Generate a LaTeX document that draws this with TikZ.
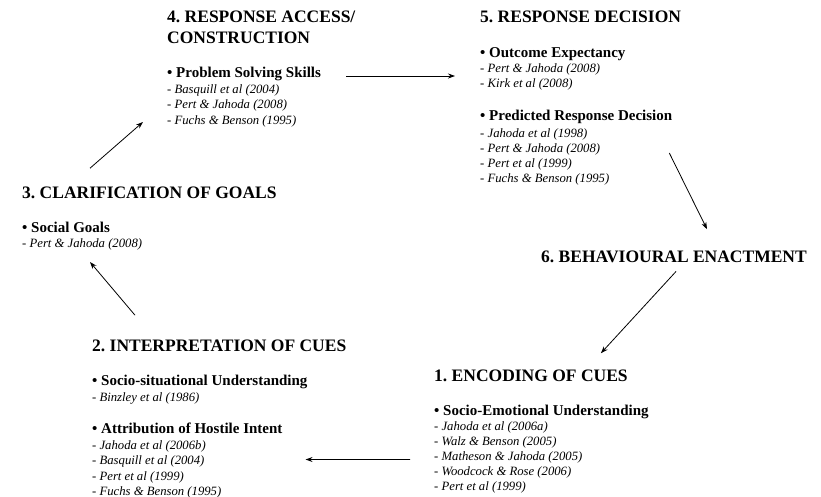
\documentclass[tikz,border=0pt]{standalone}
\usepackage{fontspec}
\setmainfont{Liberation Serif}
\usetikzlibrary{arrows.meta}
\frenchspacing
\begin{document}
\begin{tikzpicture}[x=1pt,y=-1pt,
    buoc/.style={anchor=base west,inner sep=0pt,font=\fontsize{17.5}{21}\selectfont\bfseries},
    muc/.style={anchor=base west,inner sep=0pt,font=\fontsize{15}{18}\selectfont\bfseries},
    trich/.style={anchor=base west,inner sep=0pt,font=\fontsize{12.7}{15}\selectfont\itshape},
    mui/.style={-{Stealth[length=7pt,width=5pt]},line width=0.8pt}]
    \useasboundingbox (0,0) rectangle (821,496);
    % buoc 4
    \node[buoc] (h4) at (167,22.5) {4. RESPONSE ACCESS/};
    \node[buoc] (h4b) at (167,43.5) {CONSTRUCTION};
    \node[muc] (b4) at (167,77) {\textbullet{} Problem Solving Skills};
    \foreach \t [count=\i] in {Basquill et al (2004),Pert \& Jahoda (2008),Fuchs \& Benson (1995)}
        \node[trich] (c4-\i) at (167,{93+15.5*(\i-1)}) {- \t};
    % buoc 5
    \node[buoc] (h5) at (480,22) {5. RESPONSE DECISION};
    \node[muc] (b5a) at (480,57) {\textbullet{} Outcome Expectancy};
    \foreach \t [count=\i] in {Pert \& Jahoda (2008),Kirk et al (2008)}
        \node[trich] (c5a-\i) at (480,{72+15*(\i-1)}) {- \t};
    \node[muc] (b5b) at (480,120) {\textbullet{} Predicted Response Decision};
    \foreach \t [count=\i] in {Jahoda et al (1998),Pert \& Jahoda (2008),Pert et al (1999),Fuchs \& Benson (1995)}
        \node[trich] (c5b-\i) at (480,{137+15*(\i-1)}) {- \t};
    % buoc 3
    \node[buoc] (h3) at (22,198) {3. CLARIFICATION OF GOALS};
    \node[muc] (b3) at (22,232) {\textbullet{} Social Goals};
    \node[trich] (c3-1) at (22,247) {- Pert \& Jahoda (2008)};
    % buoc 6
    \node[buoc] (h6) at (541,262) {6. BEHAVIOURAL ENACTMENT};
    % buoc 2
    \node[buoc] (h2) at (92,351) {2. INTERPRETATION OF CUES};
    \node[muc] (b2a) at (92,385) {\textbullet{} Socio-situational Understanding};
    \node[trich] (c2a-1) at (92,401) {- Binzley et al (1986)};
    \node[muc] (b2b) at (92,433) {\textbullet{} Attribution of Hostile Intent};
    \foreach \t [count=\i] in {Jahoda et al (2006b),Basquill et al (2004),Pert et al (1999),Fuchs \& Benson (1995)}
        \node[trich] (c2b-\i) at (92,{449+15.5*(\i-1)}) {- \t};
    % buoc 1
    \node[buoc] (h1) at (434,381) {1. ENCODING OF CUES};
    \node[muc] (b1) at (434,415) {\textbullet{} Socio-Emotional Understanding};
    \foreach \t [count=\i] in {Jahoda et al (2006a),Walz \& Benson (2005),Matheson \& Jahoda (2005),Woodcock \& Rose (2006),Pert et al (1999)}
        \node[trich] (c1-\i) at (434,{430+15.2*(\i-1)}) {- \t};
    % mui ten
    \draw[mui] ([shift={(68,-18)}]h3.north west)--([shift={(-24,-2)}]c4-3.base west);
    \draw[mui] ([shift={(25,-1)}]b4.base east)--([shift={(-25,4)}]c5a-1.base west);
    \draw[mui] ([shift={(69,1)}]c5b-2.base east)--([shift={(33,-21)}]h6.north);
    \draw[mui] ([shift={(2,9)}]h6.south)--([shift={(-27,-16)}]h1.north east);
    \draw[mui] ([shift={(-24,-1)}]c1-3.base west)--([shift={(101,-5)}]c2b-2.base east);
    \draw[mui] ([shift={(43,-24)}]h2.north west)--([shift={(68,15)}]c3-1.base west);
\end{tikzpicture}
\end{document}
